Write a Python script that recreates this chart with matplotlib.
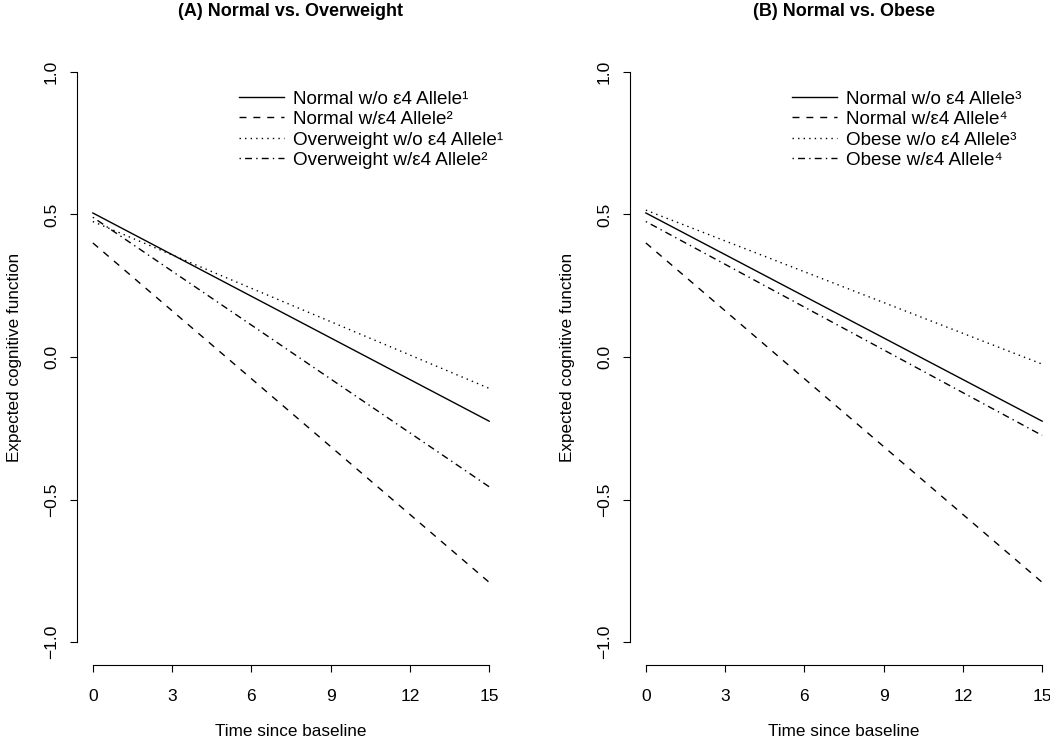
import numpy as np
import matplotlib
matplotlib.use("Agg")
import matplotlib.pyplot as plt

plt.rcParams["font.family"] = ["Liberation Sans", "DejaVu Sans"]

# time since baseline (start / end of each fitted line)
time_pts = [0, 15]

# panel A: normal vs overweight
a_labels = ["Normal w/o \u03b54 Allele\u00b9", "Normal w/\u03b54 Allele\u00b2",
            "Overweight w/o \u03b54 Allele\u00b9", "Overweight w/\u03b54 Allele\u00b2"]
a_values = [[0.505, -0.225], [0.40, -0.79], [0.475, -0.11], [0.49, -0.455]]

# panel B: normal vs obese
b_labels = ["Normal w/o \u03b54 Allele\u00b3", "Normal w/\u03b54 Allele\u2074",
            "Obese w/o \u03b54 Allele\u00b3", "Obese w/\u03b54 Allele\u2074"]
b_values = [[0.505, -0.225], [0.40, -0.79], [0.515, -0.025], [0.475, -0.275]]

titles = ["(A) Normal vs. Overweight", "(B) Normal vs. Obese"]
x_ticks = [0, 3, 6, 9, 12, 15]
y_ticks = [-1.0, -0.5, 0.0, 0.5, 1.0]

styles = ["-", (0, (5, 5)), (0, (1, 3)), (0, (1, 3, 5, 3))]

fig = plt.figure(figsize=(10.5, 7.43), dpi=100)
W, H = 1050, 743
ax_a = fig.add_axes([77 / W, 1 - 665 / H, 428 / W, 616 / H])
ax_b = fig.add_axes([630 / W, 1 - 665 / H, 428 / W, 616 / H])


def draw_panel(ax, labels, values, title):
    for lab, vals, ls in zip(labels, values, styles):
        ax.plot(time_pts, vals, color="black", lw=1.0, linestyle=ls, label=lab)
    ax.set_xlim(-0.6, 15.6)
    ax.set_ylim(-1.08, 1.08)
    for s in ["top", "right"]:
        ax.spines[s].set_visible(False)
    ax.spines["left"].set_bounds(-1.0, 1.0)
    ax.spines["bottom"].set_bounds(0, 15)
    ax.set_xticks(x_ticks)
    ax.set_yticks(y_ticks)
    ax.set_yticklabels([f"{v:.1f}".replace("-", "\u2212") for v in y_ticks],
                       rotation=90, va="center")
    ax.tick_params(direction="out", length=5, width=0.8, labelsize=12.5)
    ax.tick_params(axis="x", pad=12)
    ax.tick_params(axis="y", pad=8)
    ax.spines["left"].set_linewidth(0.8)
    ax.spines["bottom"].set_linewidth(0.8)
    ax.set_title(title, fontsize=13, fontweight="bold", pad=24)
    ax.set_xlabel("Time since baseline", fontsize=12.3, labelpad=15)
    ax.set_ylabel("Expected cognitive function", fontsize=12.3, labelpad=16)
    ax.legend(loc="upper left", bbox_to_anchor=(0.36, 0.945), frameon=False,
              fontsize=13.6, handlelength=2.4, handletextpad=0.5,
              labelspacing=0.17, borderaxespad=0)


draw_panel(ax_a, a_labels, a_values, titles[0])
draw_panel(ax_b, b_labels, b_values, titles[1])

fig.savefig("out.png", dpi=100)
